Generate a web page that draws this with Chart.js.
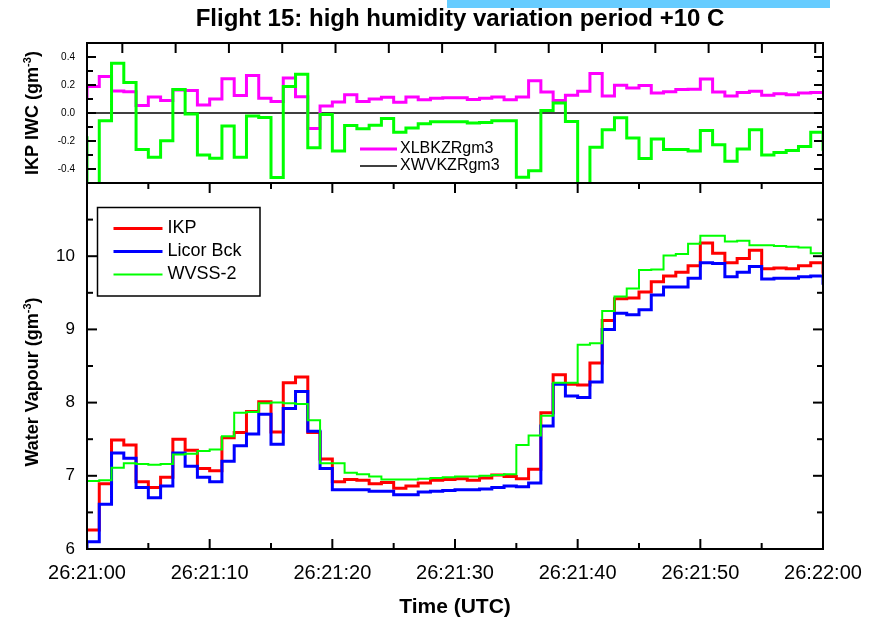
<!DOCTYPE html>
<html>
<head>
<meta charset="utf-8">
<script src="https://cdn.jsdelivr.net/npm/chart.js@4.4.1/dist/chart.umd.min.js"></script>
<style>
  html, body { margin: 0; padding: 0; background: #fff; }
  #wrap { position: relative; width: 878px; height: 623px; }
  #bar { position: absolute; left: 447px; top: 0; width: 383px; height: 8px; background: #66ccff; }
</style>
</head>
<body>
<div id="wrap">
  <canvas id="chart" width="878" height="623"></canvas>
  <div id="bar"></div>
</div>
<script>
// ================= DATA =================
// 1 Hz samples, t = -1 .. 60 s after 26:21:00
const seconds = Array.from({ length: 62 }, (_, i) => i - 1);

// water vapour (g m-3)
const ikp = [6.26, 6.26, 6.89, 7.49, 7.42, 6.92, 6.84, 6.98, 7.50, 7.35, 7.10, 7.07, 7.52, 7.59, 7.88, 8.01,
  7.60, 8.27, 8.35, 7.59, 7.23, 6.92, 6.95, 6.94, 6.89, 6.91, 6.83, 6.86, 6.90, 6.94, 6.95, 6.96,
  6.94, 6.97, 7.01, 6.99, 6.96, 7.09, 7.86, 8.38, 8.25, 8.24, 8.54, 9.12, 9.42, 9.43, 9.51, 9.65,
  9.73, 9.78, 9.87, 10.18, 10.04, 9.91, 9.97, 10.08, 9.83, 9.84, 9.83, 9.87, 9.91, 9.76];

const licorBck = [6.00, 6.10, 6.61, 7.31, 7.24, 6.84, 6.70, 6.86, 7.31, 7.13, 6.98, 6.92, 7.20, 7.41, 7.57, 7.84,
  7.43, 7.92, 8.15, 7.61, 7.10, 6.81, 6.81, 6.81, 6.79, 6.79, 6.74, 6.74, 6.78, 6.79, 6.80, 6.81,
  6.81, 6.82, 6.84, 6.86, 6.85, 6.90, 7.68, 8.25, 8.09, 8.07, 8.28, 9.00, 9.22, 9.20, 9.27, 9.47,
  9.58, 9.58, 9.70, 9.91, 9.90, 9.72, 9.78, 9.86, 9.69, 9.70, 9.70, 9.72, 9.73, 9.61];

const wvss2 = [6.48, 6.93, 6.94, 7.11, 7.17, 7.16, 7.15, 7.16, 7.29, 7.30, 7.34, 7.36, 7.54, 7.86, 7.87, 7.99,
  8.00, 7.99, 7.98, 7.76, 7.17, 7.17, 7.04, 7.02, 6.99, 6.95, 6.95, 6.95, 6.96, 6.97, 6.98, 6.99,
  6.99, 7.00, 7.01, 7.02, 7.42, 7.55, 7.82, 8.27, 8.27, 8.79, 8.81, 9.25, 9.45, 9.56, 9.81, 9.82,
  10.01, 10.03, 10.17, 10.28, 10.28, 10.20, 10.21, 10.15, 10.15, 10.14, 10.13, 10.12, 10.04, 10.05];

// ice water content (g m-3)
const xlbkzr = [0.114, 0.19, 0.26, 0.157, 0.152, 0.054, 0.114, 0.09, 0.165, 0.16, 0.058, 0.10, 0.244, 0.125, 0.267, 0.105,
  0.083, 0.25, 0.116, -0.111, 0.05, 0.079, 0.131, 0.083, 0.10, 0.112, 0.077, 0.115, 0.095, 0.106, 0.109, 0.109,
  0.097, 0.106, 0.114, 0.094, 0.114, 0.23, 0.15, 0.09, 0.126, 0.155, 0.283, 0.121, 0.198, 0.179, 0.196, 0.143,
  0.152, 0.167, 0.17, 0.242, 0.15, 0.121, 0.147, 0.155, 0.126, 0.138, 0.13, 0.143, 0.147, 0.145];

const ikpIwc = [-0.176, -0.6, -0.055, 0.355, 0.217, -0.261, -0.316, -0.198, 0.167, -0.007, -0.30, -0.323, -0.092, -0.316, -0.022, -0.032,
  -0.46, 0.19, 0.277, -0.248, -0.01, -0.272, -0.09, -0.112, -0.087, -0.04, -0.138, -0.108, -0.076, -0.062, -0.062, -0.062,
  -0.072, -0.067, -0.055, -0.055, -0.459, -0.413, 0.017, 0.072, -0.06, -0.6, -0.244, -0.12, -0.034, -0.178, -0.325, -0.185,
  -0.26, -0.26, -0.272, -0.125, -0.226, -0.345, -0.258, -0.12, -0.30, -0.282, -0.268, -0.239, -0.138, -0.27];

const xwvkzrTimes = [-1, 60];
const xwvkzr = [0, 0];

// ================= STYLE =================
const FONT = "'Liberation Sans', Arial, sans-serif";
Chart.defaults.font.family = FONT;
Chart.defaults.color = "#000";

const pts = (xs, ys) => xs.map((t, i) => ({ x: t, y: ys[i] }));

function stepLine(label, xs, ys, color, width, axis, order) {
  return {
    label,
    data: pts(xs, ys),
    borderColor: color,
    backgroundColor: color,
    borderWidth: width,
    stepped: true,
    pointRadius: 0,
    fill: false,
    yAxisID: axis,
    order,
    borderJoinStyle: "miter"
  };
}

function timeLabel(v) {
  const total = 21 * 60 + v;
  const mm = Math.floor(total / 60);
  const ss = total % 60;
  return "26:" + mm + ":" + String(ss).padStart(2, "0");
}

// ================= PLUGINS =================
// keep each series inside its own panel
const panelClip = {
  id: "panelClip",
  beforeDatasetDraw(chart, args) {
    const ys = args.meta.yScale;
    const a = chart.chartArea;
    chart.ctx.save();
    chart.ctx.beginPath();
    chart.ctx.rect(a.left, ys.top, a.right - a.left, ys.bottom - ys.top);
    chart.ctx.clip();
  },
  afterDatasetDraw(chart) {
    chart.ctx.restore();
  }
};

function line(ctx, x1, y1, x2, y2) {
  ctx.beginPath();
  ctx.moveTo(x1, y1);
  ctx.lineTo(x2, y2);
  ctx.stroke();
}

function verticalTitle(ctx, cx, cy, main, sup, tail, size) {
  ctx.save();
  ctx.translate(cx, cy);
  ctx.rotate(-Math.PI / 2);
  const big = "bold " + size + "px " + FONT;
  const small = "bold " + Math.round(size * 0.62) + "px " + FONT;
  ctx.font = big;
  const w1 = ctx.measureText(main).width;
  const w3 = ctx.measureText(tail).width;
  ctx.font = small;
  const w2 = ctx.measureText(sup).width;
  const x0 = -(w1 + w2 + w3) / 2;
  const base = size * 0.36;
  ctx.textAlign = "left";
  ctx.textBaseline = "alphabetic";
  ctx.font = big;
  ctx.fillText(main, x0, base);
  ctx.font = small;
  ctx.fillText(sup, x0 + w1, base - size * 0.42);
  ctx.font = big;
  ctx.fillText(tail, x0 + w1 + w2, base);
  ctx.restore();
}

// frames, inward ticks, titles and legends
const decor = {
  id: "decor",
  afterDraw(chart) {
    const { ctx, chartArea: a } = chart;
    const { x, yTop, y } = chart.scales;
    ctx.save();
    ctx.strokeStyle = "#000";
    ctx.fillStyle = "#000";

    // panel frames
    ctx.lineWidth = 2;
    [yTop, y].forEach(s => ctx.strokeRect(a.left, s.top, a.right - a.left, s.bottom - s.top));

    // time ticks on the lower panel (bottom and top edge)
    for (let v = 0; v <= 60; v += 5) {
      const px = x.getPixelForValue(v);
      const len = v % 10 === 0 ? 10 : 6;
      line(ctx, px, y.bottom, px, y.bottom - len);
      line(ctx, px, y.top, px, y.top + len);
    }
    // upper edge of the top panel carries its own tick spacing
    for (let v = 2.88; v < 60; v += 4.345) {
      const px = x.getPixelForValue(v);
      line(ctx, px, yTop.top, px, yTop.top + 10);
    }
    // value ticks, both sides
    y.ticks.forEach(t => {
      const py = y.getPixelForValue(t.value);
      const len = Number.isInteger(t.value) ? 10 : 6;
      line(ctx, a.left, py, a.left + len, py);
      line(ctx, a.right, py, a.right - len, py);
    });
    yTop.ticks.forEach(t => {
      const py = yTop.getPixelForValue(t.value);
      const major = Math.abs(Math.round(t.value * 5) - t.value * 5) < 1e-6;
      const len = major ? 9 : 6;
      line(ctx, a.left, py, a.left + len, py);
      line(ctx, a.right, py, a.right - len, py);
    });

    // chart title
    ctx.font = "bold 24px " + FONT;
    ctx.textAlign = "center";
    ctx.textBaseline = "middle";
    ctx.fillText("Flight 15: high humidity variation period +10 C", 460, 19);

    // axis titles
    verticalTitle(ctx, 32, (yTop.top + yTop.bottom) / 2, "IKP IWC (gm", "-3", ")", 18);
    verticalTitle(ctx, 32, (y.top + y.bottom) / 2 + 16, "Water Vapour (gm", "-3", ")", 18);

    // legend of the lower panel
    const ds = chart.data.datasets;
    const lx = a.left + 10.5, ly = y.top + 24.5;
    ctx.lineWidth = 1.5;
    ctx.strokeRect(lx, ly, 162.5, 88.5);
    ctx.font = "18px " + FONT;
    ctx.textAlign = "left";
    [0, 1, 2].forEach((k, i) => {
      const d = ds[k];
      const yy = ly + 21 + i * 23;
      ctx.strokeStyle = d.borderColor;
      ctx.lineWidth = d.borderWidth;
      line(ctx, lx + 16, yy, lx + 65, yy);
      ctx.fillText(d.label, lx + 70, yy);
    });

    // legend of the upper panel
    ctx.font = "16px " + FONT;
    [3, 5].forEach((k, i) => {
      const d = ds[k];
      const yy = yTop.top + 106 + i * 17;
      ctx.strokeStyle = d.borderColor;
      ctx.lineWidth = d.borderWidth;
      line(ctx, a.left + 273, yy, a.left + 310, yy);
      ctx.fillText(d.label, a.left + 313, yy);
    });
    ctx.restore();
  }
};

// ================= CHART =================
const chart = new Chart(document.getElementById("chart"), {
  type: "line",
  data: {
    datasets: [
      stepLine("IKP", seconds, ikp, "#ff0000", 3, "y", 2),
      stepLine("Licor Bck", seconds, licorBck, "#0000ff", 3, "y", 1),
      stepLine("WVSS-2", seconds, wvss2, "#00ff00", 2, "y", 0),
      stepLine("XLBKZRgm3", seconds, xlbkzr, "#ff00ff", 3, "yTop", 4),
      stepLine("IKP IWC", seconds, ikpIwc, "#00ff00", 3, "yTop", 3),
      stepLine("XWVKZRgm3", xwvkzrTimes, xwvkzr, "#000000", 1.4, "yTop", 5)
    ]
  },
  options: {
    responsive: false,
    animation: false,
    layout: { padding: { top: 43, right: 55, left: 0, bottom: 0 } },
    plugins: {
      legend: { display: false },
      tooltip: { enabled: false },
      title: { display: false }
    },
    scales: {
      x: {
        type: "linear",
        position: "bottom",
        min: 0,
        max: 60,
        grid: { display: false, drawTicks: false },
        border: { display: false },
        ticks: {
          stepSize: 10,
          maxRotation: 0,
          autoSkip: false,
          padding: 12,
          font: { size: 20 },
          callback: v => timeLabel(v)
        },
        title: {
          display: true,
          text: "Time (UTC)",
          font: { size: 21, weight: "bold" },
          padding: { top: 0, bottom: 3 }
        },
        afterFit: s => { s.height = 74; }
      },
      // lower panel first: stacked left axes are placed from the last one down
      y: {
        type: "linear",
        position: "left",
        stack: "panels",
        stackWeight: 366,
        min: 6,
        max: 11,
        grid: { display: false, drawTicks: false },
        border: { display: false },
        ticks: {
          stepSize: 0.5,
          autoSkip: false,
          padding: 12,
          font: { size: 17 },
          callback: v => (Number.isInteger(v) && v < 11 ? String(v) : "")
        },
        afterFit: s => { s.width = 87; }
      },
      yTop: {
        type: "linear",
        position: "left",
        stack: "panels",
        stackWeight: 140,
        min: -0.5,
        max: 0.5,
        grid: { display: false, drawTicks: false },
        border: { display: false },
        ticks: {
          stepSize: 0.1,
          autoSkip: false,
          padding: 12,
          font: { size: 10 },
          callback: v => {
            const major = Math.abs(Math.round(v * 5) - v * 5) < 1e-6 && Math.abs(v) < 0.45;
            if (!major) return "";
            return Math.abs(v) < 1e-9 ? "0.0" : v.toFixed(1);
          }
        },
        afterFit: s => { s.width = 87; }
      }
    }
  },
  plugins: [panelClip, decor]
});
</script>
</body>
</html>
